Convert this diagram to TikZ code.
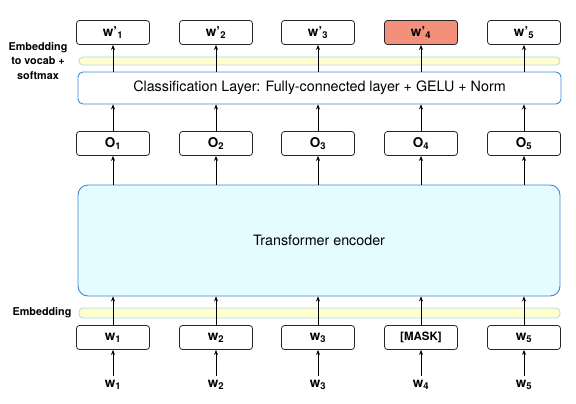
\documentclass[tikz,border=0pt]{standalone}
\usepackage{fontspec}
\setmainfont{TeX Gyre Heros}
\usetikzlibrary{arrows.meta}
\definecolor{boxblue}{RGB}{66,135,205}
\definecolor{encfill}{RGB}{228,252,255}
\definecolor{barfill}{RGB}{255,255,205}
\definecolor{barline}{RGB}{178,214,240}
\definecolor{maskred}{RGB}{242,144,124}
\tikzset{
  ->/.style={draw=black,line width=0.7pt,-{Stealth[length=5pt,width=4pt]}},
  tok/.style={draw=black!85,line width=0.8pt,rounded corners=3pt,minimum width=73pt,minimum height=24pt,font=\fontsize{13.5}{15}\selectfont\bfseries},
  layer/.style={draw=boxblue,line width=0.9pt,fill=white,rounded corners=5pt,font=\fontsize{14.3}{16}\selectfont},
  bar/.style={draw=barline,line width=0.8pt,fill=barfill,rounded corners=4pt,minimum width=481pt},
  side/.style={font=\fontsize{10.8}{14.5}\selectfont\bfseries,align=center},
  inp/.style={font=\fontsize{13.5}{15}\selectfont\bfseries,inner sep=4pt}
}

\begin{document}
\begin{tikzpicture}[x=1pt,y=-1pt]
    \useasboundingbox (0,0) rectangle (576,404);
    % output tokens
    \node[tok] (p1) at (113,32.5) {w’\textsubscript{1}};
    \node[tok] (p2) at (216,32.5) {w’\textsubscript{2}};
    \node[tok] (p3) at (318,32.5) {w’\textsubscript{3}};
    \node[tok,fill=maskred] (p4) at (421,32.5) {w’\textsubscript{4}};
    \node[tok] (p5) at (524,32.5) {w’\textsubscript{5}};
    \node[bar,minimum height=8pt] (vocab) at (319.5,61) {};
    \node[side] (vlab) at (38,61) {Embedding\\to vocab +\\softmax};
    \node[layer,minimum width=483pt,minimum height=32pt] (cls) at (319.5,88) {Classification Layer: Fully-connected layer + GELU + Norm};
    % encoder outputs
    \node[tok] (o1) at (113,143.5) {O\textsubscript{1}};
    \node[tok] (o2) at (216,143.5) {O\textsubscript{2}};
    \node[tok] (o3) at (318,143.5) {O\textsubscript{3}};
    \node[tok] (o4) at (421,143.5) {O\textsubscript{4}};
    \node[tok] (o5) at (524,143.5) {O\textsubscript{5}};
    \node[layer,fill=encfill,rounded corners=10pt,minimum width=482pt,minimum height=111pt] (enc) at (319,240.5) {Transformer encoder};
    \node[bar,minimum height=10pt] (emb) at (319.5,313) {};
    \node[side] (elab) at (42,313) {Embedding};
    % input tokens
    \node[tok] (t1) at (113,337.5) {w\textsubscript{1}};
    \node[tok] (t2) at (216,337.5) {w\textsubscript{2}};
    \node[tok] (t3) at (318,337.5) {w\textsubscript{3}};
    \node[tok,font=\fontsize{11.5}{13}\selectfont\bfseries] (t4) at (421,337.5) {[MASK]};
    \node[tok] (t5) at (524,337.5) {w\textsubscript{5}};
    \node[inp] (i1) at (113,385) {w\textsubscript{1}};
    \node[inp] (i2) at (216,385) {w\textsubscript{2}};
    \node[inp] (i3) at (318,385) {w\textsubscript{3}};
    \node[inp] (i4) at (421,385) {w\textsubscript{4}};
    \node[inp] (i5) at (524,385) {w\textsubscript{5}};
    \draw[->] (i1) -- (t1);
    \draw[->] (i2) -- (t2);
    \draw[->] (i3) -- (t3);
    \draw[->] (i4) -- (t4);
    \draw[->] (i5) -- (t5);
    \draw[->] (t1) -- (t1 |- enc.south);
    \draw[->] (t2) -- (t2 |- enc.south);
    \draw[->] (t3) -- (t3 |- enc.south);
    \draw[->] (t4) -- (t4 |- enc.south);
    \draw[->] (t5) -- (t5 |- enc.south);
    \draw[->] (o1 |- enc.north) -- (o1);
    \draw[->] (o2 |- enc.north) -- (o2);
    \draw[->] (o3 |- enc.north) -- (o3);
    \draw[->] (o4 |- enc.north) -- (o4);
    \draw[->] (o5 |- enc.north) -- (o5);
    \draw[->] (o1) -- (o1 |- cls.south);
    \draw[->] (o2) -- (o2 |- cls.south);
    \draw[->] (o3) -- (o3 |- cls.south);
    \draw[->] (o4) -- (o4 |- cls.south);
    \draw[->] (o5) -- (o5 |- cls.south);
    \draw[->] (p1 |- cls.north) -- (p1);
    \draw[->] (p2 |- cls.north) -- (p2);
    \draw[->] (p3 |- cls.north) -- (p3);
    \draw[->] (p4 |- cls.north) -- (p4);
    \draw[->] (p5 |- cls.north) -- (p5);
\end{tikzpicture}
\end{document}
